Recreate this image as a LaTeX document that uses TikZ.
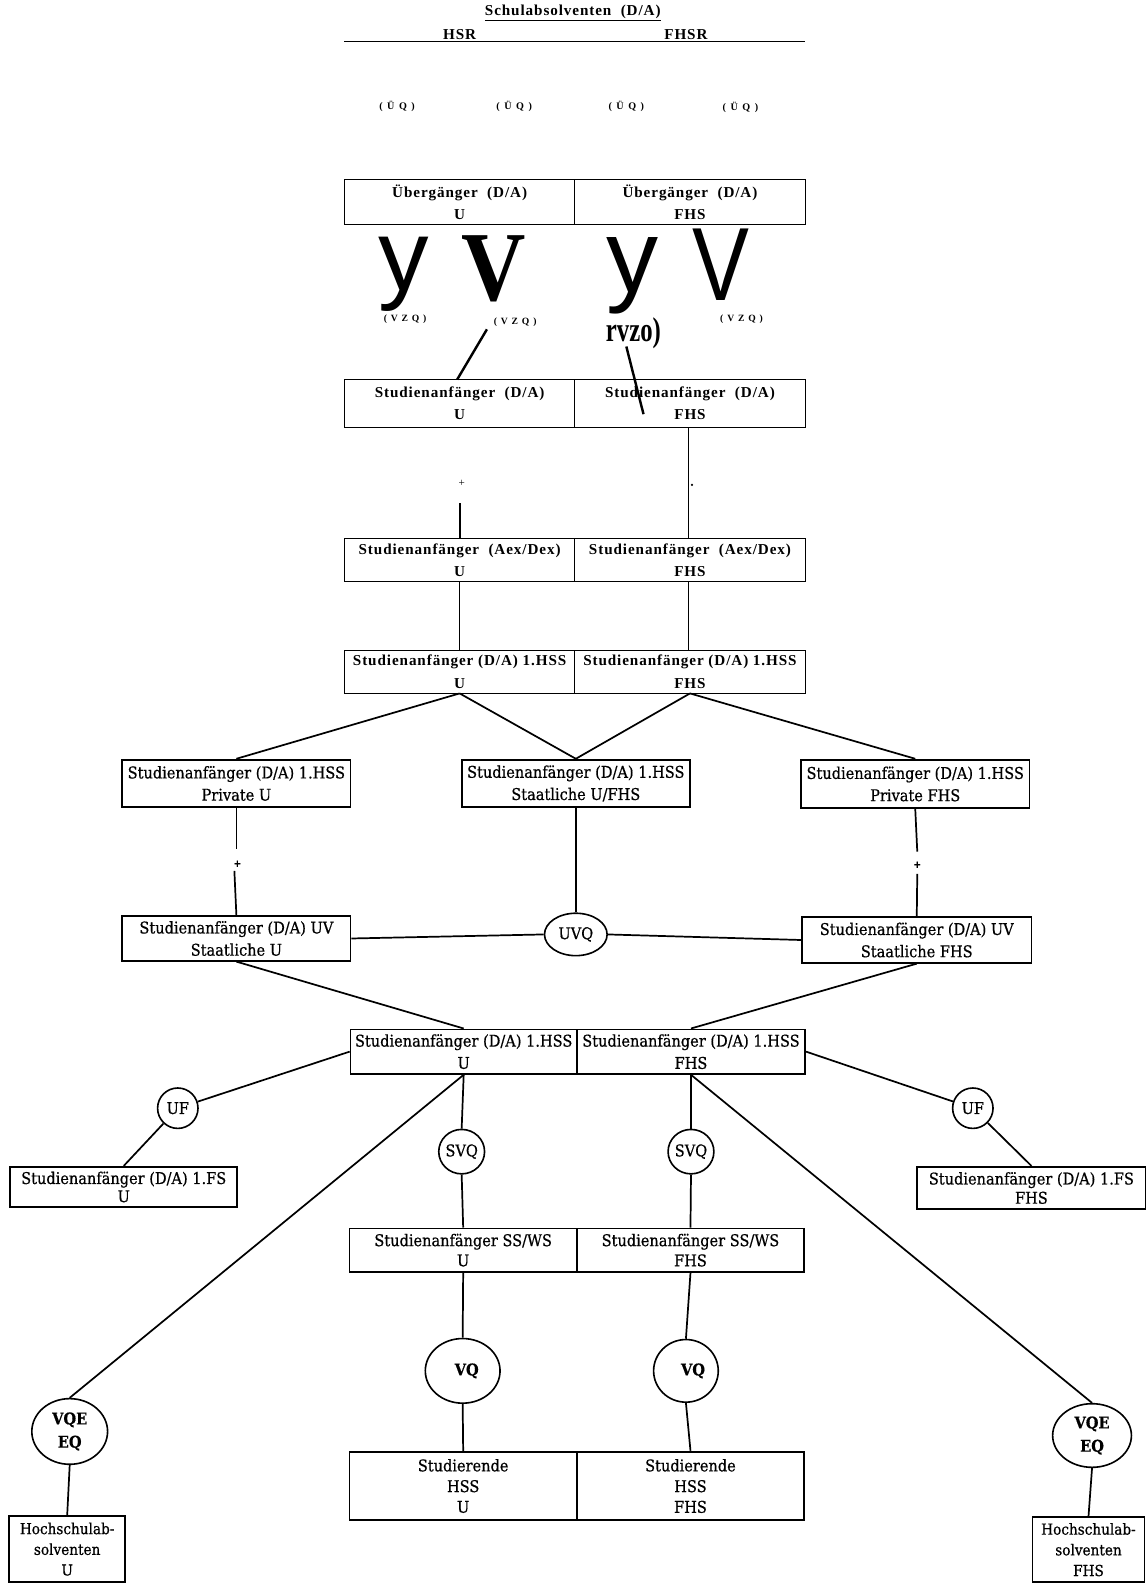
\documentclass[tikz,border=0pt]{standalone}
\usepackage{fontspec}
\setmainfont{Liberation Serif}
\newfontfamily\trackfont[LetterSpace=6]{Liberation Serif}
\newfontfamily\uqfont[LetterSpace=20]{Liberation Serif}
\newfontfamily\vzqfont[LetterSpace=40]{Liberation Serif}
\newfontfamily\lowfont[FakeStretch=0.9,FakeBold=0.6]{DejaVu Serif}
\newfontfamily\glyphsans{Liberation Sans}
\usetikzlibrary{shapes.geometric,calc}
\begin{document}
\begin{tikzpicture}[x=1pt,y=-1pt,
  topbox/.style={draw,line width=0.8pt,inner sep=0pt,align=center,minimum width=228pt,font=\trackfont\bfseries\fontsize{15}{22}\selectfont},
  lowbox/.style={draw,line width=1.8pt,inner sep=0pt,align=center,font=\lowfont\fontsize{16}{22}\selectfont},
  circ/.style={ellipse,draw,line width=1.6pt,inner sep=0pt,font=\lowfont\fontsize{16}{23}\selectfont},
  thinlink/.style={line width=0.8pt},
  link/.style={line width=1.7pt},
  heavylink/.style={line width=2.4pt},
  lbl/.style={inner sep=0pt},
  toplbl/.style={inner sep=0pt,font=\trackfont\bfseries\fontsize{15}{16}\selectfont},
  uqlbl/.style={inner sep=0pt,font=\uqfont\bfseries\fontsize{10}{11}\selectfont},
  vzlbl/.style={inner sep=0pt,font=\vzqfont\bfseries\fontsize{9.5}{11}\selectfont}]
\fill[white] (0,0) rectangle (1135,1568);
\useasboundingbox (0,0) rectangle (1135,1568);

% ---------- header ----------
\node[toplbl] (title) at (567,13) {\underline{Schulabsolventen\ \ (D/A)}};
\node[toplbl] (hsr) at (455,34) {HSR};
\node[toplbl] (fhsr) at (679,34) {FHSR};
\coordinate (tl1) at (341,41);
\coordinate (tl2) at (797,41);
\draw[line width=1pt] (tl1) -- (tl2);

\node[uqlbl] (uq1) at (393,105) {( Ü Q )};
\node[uqlbl] (uq2) at (509,105) {( Ü Q )};
\node[uqlbl] (uq3) at (620,105) {( Ü Q )};
\node[uqlbl] (uq4) at (733,106) {( Ü Q )};

% ---------- upper boxes ----------
\node[topbox, minimum height=44pt] (ueU) at (455,200) {Übergänger\ \ (D/A)\\U};
\node[topbox, minimum height=44pt] (ueF) at (683,200) {Übergänger\ \ (D/A)\\FHS};

\node[lbl, font=\glyphsans\fontsize{100}{100}\selectfont] (gy1) at (400,272) {y};
\node[lbl, font=\bfseries\fontsize{98}{98}\selectfont] (gv1) at (489,266) {\scalebox{0.9}[1]{V}};
\node[lbl, font=\glyphsans\fontsize{103}{103}\selectfont] (gy2) at (626,273) {y};
\node[lbl, font=\glyphsans\fontsize{103}{103}\selectfont] (gv2) at (714,262) {\scalebox{0.82}[1]{V}};

\node[vzlbl] (vz1) at (401,316) {(VZQ)};
\node[vzlbl] (vz2) at (510,319) {(VZQ)};
\node[vzlbl] (vz4) at (734,316) {(VZQ)};
\node[lbl, font=\bfseries\fontsize{34}{34}\selectfont] (rvzo) at (627,330) {\scalebox{0.72}[1]{rvzo)}};

\node[topbox, minimum height=47pt] (saU) at (455,399.5) {Studienanfänger\ \ (D/A)\\U};
\node[topbox, minimum height=47pt] (saF) at (683,399.5) {Studienanfänger\ \ (D/A)\\FHS};

\coordinate (s1) at (482,326);
\draw[heavylink] (s1) -- ($(saU.north west)+(112,0)$);
\coordinate (s2a) at (620,343);
\coordinate (s2b) at (637,410);
\draw[heavylink] (s2a) -- (s2b);

\node[topbox, minimum height=43pt] (aeU) at (455,554.5) {Studienanfänger\ \ (Aex/Dex)\\U};
\node[topbox, minimum height=43pt] (aeF) at (683,554.5) {Studienanfänger\ \ (Aex/Dex)\\FHS};

\node[lbl, font=\fontsize{11}{11}\selectfont] (plus1) at (457,478) {+};
\node[circle, fill, inner sep=0pt, minimum size=2.4pt] (dot1) at (685,480) {};
\coordinate (stub) at (455,498);
\draw[line width=1.8pt] (stub) -- (aeU.north);
\draw[thinlink] ($(saF.south)+(-2,0)$) -- ($(aeF.north)+(-2,0)$);

\node[topbox, minimum height=42pt] (h1U) at (455,665) {Studienanfänger (D/A)\ 1.HSS\\U};
\node[topbox, minimum height=42pt] (h1F) at (683,665) {Studienanfänger (D/A)\ 1.HSS\\FHS};
\draw[thinlink] (aeU.south) -- (h1U.north);
\draw[thinlink] ($(aeF.south)+(-2,0)$) -- ($(h1F.north)+(-2,0)$);

% ---------- middle ----------
\node[lowbox, minimum width=226pt, minimum height=47pt] (pU) at (234,775.5) {Studienanfänger (D/A) 1.HSS\\Private U};
\node[lowbox, minimum width=226pt, minimum height=47pt] (sUF) at (570,775.5) {Studienanfänger (D/A) 1.HSS\\Staatliche U/FHS};
\node[lowbox, minimum width=226pt, minimum height=48pt] (pF) at (906,776) {Studienanfänger (D/A) 1.HSS\\Private FHS};
\draw[link] (h1U.south) -- (pU.north);
\draw[link] (h1U.south) -- (sUF.north);
\draw[link] (h1F.south) -- (sUF.north);
\draw[link] (h1F.south) -- (pF.north);

\node[lowbox, minimum width=226pt, minimum height=44pt] (uvU) at (234,929) {Studienanfänger (D/A) UV\\Staatliche U};
\node[lowbox, minimum width=227pt, minimum height=45pt] (uvF) at (907.5,930.5) {Studienanfänger (D/A) UV\\Staatliche FHS};
\node[circ, minimum width=62pt, minimum height=42pt] (uvq) at (570,925) {UVQ};

\coordinate (pUa) at (234,840);
\coordinate (pUb) at (232,862);
\node[lbl, font=\lowfont\bfseries\fontsize{10}{10}\selectfont] (plus2) at (235,855) {+};
\draw[link] (pU.south) -- (pUa);
\draw[link] (pUb) -- (uvU.north);
\coordinate (pFa) at (908,843);
\coordinate (pFb) at (908,865);
\node[lbl, font=\lowfont\bfseries\fontsize{10}{10}\selectfont] (plus3) at (908,856) {+};
\draw[link] (pF.south) -- (pFa);
\draw[link] (pFb) -- (uvF.north);
\draw[link] (sUF.south) -- (uvq.north);
\draw[link] (uvU.east) -- (uvq.west);
\draw[link] (uvq.east) -- (uvF.west);

% ---------- lower ----------
\node[lowbox, minimum width=224pt, minimum height=44pt] (h2U) at (459,1041) {Studienanfänger (D/A) 1.HSS\\U};
\node[lowbox, minimum width=226pt, minimum height=44pt] (h2F) at (684,1041) {Studienanfänger (D/A) 1.HSS\\FHS};
\draw[link] (uvU.south) -- (h2U.north);
\draw[link] (uvF.south) -- (h2F.north);

\node[circ, minimum width=40pt, minimum height=40pt] (ufL) at (176,1097) {UF};
\node[circ, minimum width=40pt, minimum height=40pt] (ufR) at (963,1097) {UF};
\node[lowbox, minimum width=225pt, minimum height=40pt, font=\lowfont\fontsize{16}{18}\selectfont] (fsU) at (122.5,1175) {Studienanfänger (D/A) 1.FS\\U};
\node[lowbox, minimum width=226pt, minimum height=42pt, font=\lowfont\fontsize{16}{19}\selectfont] (fsF) at (1021,1176) {Studienanfänger (D/A) 1.FS\\FHS};
\draw[link] (h2U.west) -- (ufL);
\draw[link] (ufL) -- (fsU.north);
\draw[link] (h2F.east) -- (ufR);
\draw[link] (ufR) -- (fsF.north);

\node[circ, minimum width=42pt, minimum height=44pt] (svqL) at (457,1140) {SVQ};
\node[circ, minimum width=42pt, minimum height=44pt] (svqR) at (684,1140) {SVQ};
\node[lowbox, minimum width=225pt, minimum height=43pt, font=\lowfont\fontsize{16}{20}\selectfont] (ssU) at (458.5,1237.5) {Studienanfänger SS/WS\\U};
\node[lowbox, minimum width=225pt, minimum height=43pt, font=\lowfont\fontsize{16}{20}\selectfont] (ssF) at (683.5,1237.5) {Studienanfänger SS/WS\\FHS};
\draw[link] (h2U.south) -- (svqL.north);
\draw[link] (svqL.south) -- (ssU.north);
\draw[link] (h2F.south) -- (svqR.north);
\draw[link] (svqR.south) -- (ssF.north);

\node[circ, font=\lowfont\bfseries\fontsize{16}{23}\selectfont, minimum width=74pt, minimum height=64pt] (vqL) at (458,1357) {\hspace*{8pt}VQ};
\node[circ, font=\lowfont\bfseries\fontsize{16}{23}\selectfont, minimum width=64pt, minimum height=62pt] (vqR) at (679,1357) {\hspace*{14pt}VQ};
\node[lowbox, minimum width=225pt, minimum height=68pt, font=\lowfont\fontsize{16}{20.5}\selectfont] (stU) at (458.5,1471) {Studierende\\HSS\\U};
\node[lowbox, minimum width=225pt, minimum height=68pt, font=\lowfont\fontsize{16}{20.5}\selectfont] (stF) at (683.5,1471) {Studierende\\HSS\\FHS};
\draw[link] (ssU.south) -- (vqL.north);
\draw[link] (vqL.south) -- (stU.north);
\draw[link] (ssF.south) -- (vqR.north);
\draw[link] (vqR.south) -- (stF.north);

\node[circ, align=center, font=\lowfont\bfseries\fontsize{16}{23}\selectfont, minimum width=75pt, minimum height=65pt] (vqeL) at (69,1417) {VQE\\EQ};
\node[circ, align=center, font=\lowfont\bfseries\fontsize{16}{23}\selectfont, minimum width=78pt, minimum height=63pt] (vqeR) at (1081,1421) {VQE\\EQ};
\node[lowbox, minimum width=115pt, minimum height=65pt, font=\lowfont\fontsize{15}{20.5}\selectfont] (hsU) at (66.5,1533.5) {Hochschulab-\\solventen\\U};
\node[lowbox, minimum width=111pt, minimum height=64pt, font=\lowfont\fontsize{15}{20.5}\selectfont] (hsF) at (1077.5,1534) {Hochschulab-\\solventen\\FHS};
\draw[link] (h2U.south) -- (vqeL.north);
\draw[link] (vqeL.south) -- (hsU.north);
\draw[link] (h2F.south) -- (vqeR.north);
\draw[link] (vqeR.south) -- (hsF.north);
\end{tikzpicture}
\end{document}
